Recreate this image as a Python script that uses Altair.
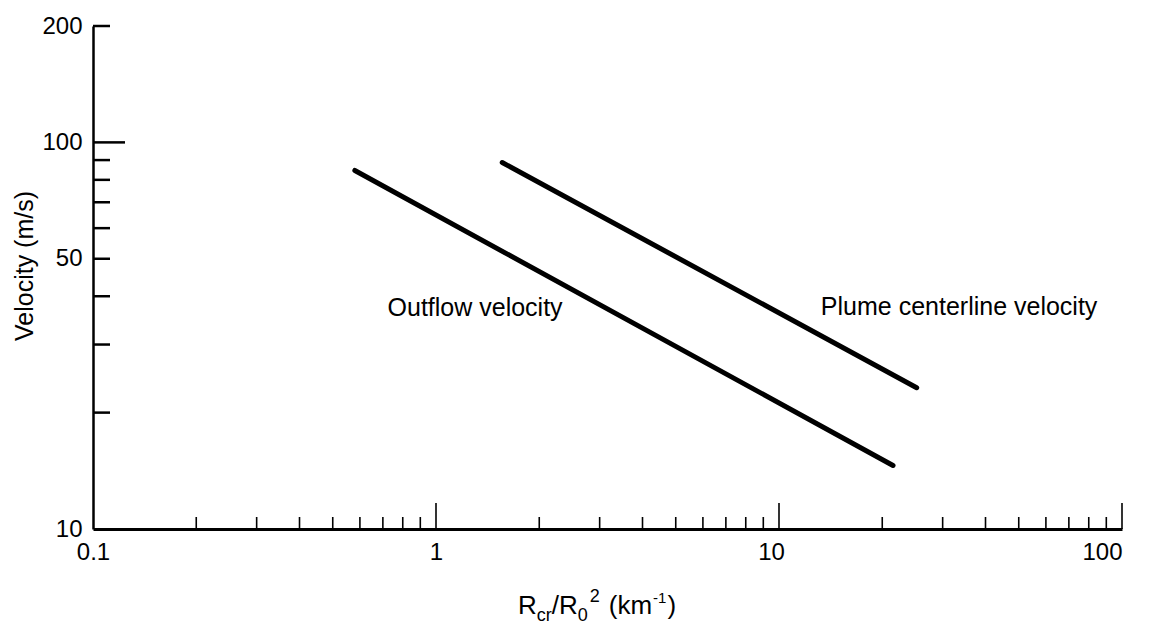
import altair as alt
import pandas as pd

# Velocity vs. R_cr / R_0^2 on log-log axes
outflow_x = [0.58, 21.5]
outflow_y = [84.6, 14.6]
plume_x = [1.56, 25.2]
plume_y = [88.7, 23.2]

x_labels = [0.1, 1, 10, 100]
y_labels = [10, 50, 100, 200]
x_minor = [0.2, 0.3, 0.4, 0.5, 0.6, 0.7, 0.8, 0.9,
           2, 3, 4, 5, 6, 7, 8, 9,
           20, 30, 40, 50, 60, 70, 80, 90]
x_major = [1, 10, 100]
y_minor = [20, 30, 40, 50, 60, 70, 80, 90, 200]
y_major = [100]

annotations = ["Outflow velocity", "Plume centerline velocity"]
annot_x = [1.30, 33.5]
annot_y = [37.3, 37.5]

W, H = 1029, 503
FONT = "Liberation Sans"

xs = alt.Scale(type="log", domain=[0.1, 100], nice=False)
ys = alt.Scale(type="log", domain=[10, 200], nice=False)

lines = pd.DataFrame({
    "x": outflow_x + plume_x,
    "y": outflow_y + plume_y,
    "series": ["outflow"] * 2 + ["plume"] * 2,
})

base_axes = alt.Chart(pd.DataFrame({"x": [0.1], "y": [10]})).mark_point(opacity=0).encode(
    x=alt.X("x:Q", scale=xs,
            axis=alt.Axis(values=x_labels, ticks=False, grid=False, title=None,
                          domainColor="black", domainWidth=3,
                          labelFont=FONT, labelFontSize=24, labelColor="black",
                          labelPadding=11, labelFlush=False,
                          labelOffset={"expr": "datum.value >= 100 ? -20 : datum.value >= 10 ? -8 : 0"},
                          labelExpr="datum.value == 0.1 ? '0.1' : format(datum.value, 'd')")),
    y=alt.Y("y:Q", scale=ys,
            axis=alt.Axis(values=y_labels, ticks=False, grid=False, title=None,
                          domainColor="black", domainWidth=2.5,
                          labelFont=FONT, labelFontSize=24, labelColor="black",
                          labelPadding=11, labelFlush=False,
                          labelExpr="format(datum.value, 'd')")),
)

def xticks(vals, length, width):
    return alt.Chart(pd.DataFrame({"v": vals})).mark_rule(
        color="black", strokeWidth=width
    ).encode(x=alt.X("v:Q", scale=xs), y=alt.value(H), y2=alt.value(H - length))

def yticks(vals, length, width):
    return alt.Chart(pd.DataFrame({"v": vals})).mark_rule(
        color="black", strokeWidth=width
    ).encode(y=alt.Y("v:Q", scale=ys), x=alt.value(0), x2=alt.value(length))

curves = alt.Chart(lines).mark_line(
    color="black", strokeWidth=5, strokeCap="round"
).encode(
    x=alt.X("x:Q", scale=xs),
    y=alt.Y("y:Q", scale=ys),
    detail="series:N",
)

labels = alt.Chart(pd.DataFrame({"t": annotations, "x": annot_x, "y": annot_y})).mark_text(
    font=FONT, fontSize=25, color="black", align="center", baseline="middle"
).encode(x=alt.X("x:Q", scale=xs), y=alt.Y("y:Q", scale=ys), text="t:N")

y_title = alt.Chart(pd.DataFrame({"a": [0]})).mark_text(
    font=FONT, fontSize=25, color="black", angle=270, align="center", baseline="middle"
).encode(x=alt.value(-68), y=alt.value(240), text=alt.value("Velocity (m/s)"))

# x-axis title built from pieces so that subscripts and superscripts sit correctly
EM = {"R": .722, "c": .5, "r": .333, "/": .278, "0": .556, "2": .556,
      "(": .333, "k": .5, "m": .833, "-": .333, "1": .556, ")": .333}
# (text, font size, baseline shift, gap before)
pieces = [("R", 26, 0, 0), ("cr", 18, 7, 0), ("/R", 26, 0, 0), ("0", 18, 7, 0),
          ("2", 18, -12, 2), ("(km", 26, 0, 9), ("-1", 15, -11, 1), (")", 26, 0, 1)]
total = sum(sum(EM[c] for c in t) * fs + gap for t, fs, _, gap in pieces)
cx = 597 - 93
base_y = 588
cursor = cx - total / 2
title_layers = []
for t, fs, dy, gap in pieces:
    cursor += gap
    title_layers.append(
        alt.Chart(pd.DataFrame({"a": [0]})).mark_text(
            font=FONT, fontSize=fs, color="black", align="left", baseline="alphabetic"
        ).encode(x=alt.value(cursor), y=alt.value(base_y + dy), text=alt.value(t))
    )
    cursor += sum(EM[c] for c in t) * fs

chart = alt.layer(
    base_axes,
    xticks(x_minor, 12, 1.6),
    xticks(x_major, 26, 1.6),
    yticks(y_minor, 17, 2.5),
    yticks(y_major, 32, 2.5),
    curves,
    labels,
    y_title,
    *title_layers,
).properties(
    width=W, height=H,
    autosize=alt.AutoSizeParams(type="none"),
    padding={"left": 93, "top": 26, "right": 30, "bottom": 102},
).configure(
    background="white",
    view=alt.ViewConfig(strokeWidth=0, stroke="transparent"),
)

chart.save("out.html", embed_options={"renderer": "svg", "actions": False})
